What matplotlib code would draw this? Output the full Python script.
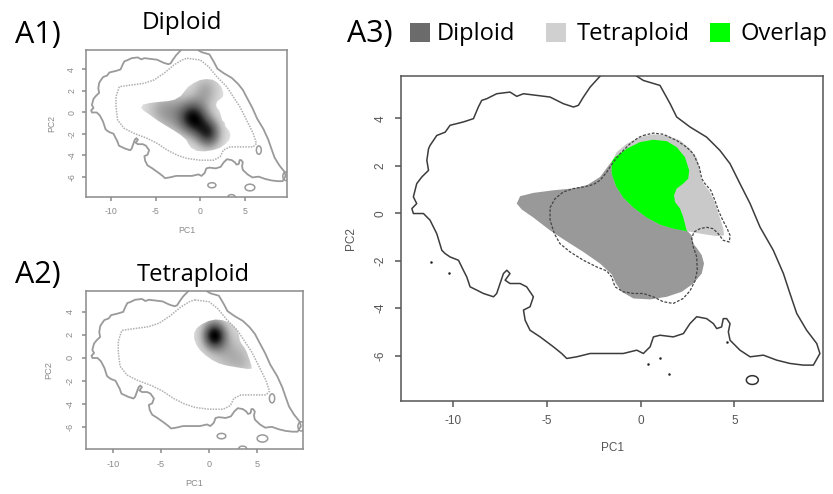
import numpy as np
import matplotlib.pyplot as plt
from matplotlib.path import Path
from matplotlib.patches import PathPatch, Ellipse, Rectangle

plt.rcParams['font.family'] = ['Open Sans', 'DejaVu Sans']
AXFONT = ['Liberation Sans', 'DejaVu Sans']

# PCA space limits shared by all panels
xlim = (-12.8, 9.75)
ylim = (-7.9, 5.8)
xticks = [-10, -5, 0, 5]
yticks = [-6, -4, -2, 0, 2, 4]

# outer contour of the available environment
env_x = [-1.81, -2.17, -2.70, -3.06, -3.33, -3.59, -4.13, -4.84, -5.55, -6.26, -6.62, -6.98,
         -7.69, -8.22, -8.49, -8.67, -8.93, -9.47, -9.82, -10.18, -10.44, -10.89, -11.25,
         -11.33, -11.42, -11.33, -11.69, -11.96, -12.05, -12.14, -11.96, -12.22, -12.14,
         -11.60, -11.25, -10.89, -10.62, -10.44, -10.18, -9.73, -9.47, -9.29, -9.11, -8.75,
         -8.40, -7.86, -7.69, -7.51, -7.33, -7.15, -6.98, -7.24, -6.98, -6.44, -6.09, -5.73,
         -5.91, -6.26, -6.17, -5.91, -5.37, -4.66, -4.22, -3.95, -3.42, -2.70, -1.81, -0.93,
         -0.21, 0.14, 0.50, 0.68, 1.03, 1.74, 2.28, 2.63, 2.99, 3.52, 3.88, 4.06, 4.32, 4.41,
         4.59, 4.77, 4.68, 4.77, 5.30, 5.84, 6.55, 7.26, 7.97, 8.68, 9.22, 9.57, 9.40, 8.86,
         8.33, 7.97, 7.62, 7.08, 6.37, 5.84, 5.30, 4.77, 4.23, 3.52, 2.63, 1.92, 1.57, 1.03,
         0.14, -0.21, -0.57]
env_y = [6.44, 5.78, 5.32, 4.90, 4.55, 4.48, 4.62, 4.90, 4.97, 5.04, 4.93, 5.11,
         5.04, 4.83, 4.76, 4.48, 3.99, 3.85, 3.78, 3.71, 3.42, 3.28, 2.86,
         2.72, 2.23, 1.81, 1.53, 1.25, 0.97, 0.69, 0.41, 0.20, -0.01,
         -0.01, -0.29, -0.86, -1.56, -1.70, -1.84, -1.98, -2.40, -2.68, -3.10, -3.24,
         -3.38, -3.52, -3.38, -2.96, -2.54, -2.40, -2.54, -2.82, -2.96, -2.96, -3.10, -3.52,
         -3.94, -4.08, -4.51, -4.93, -5.21, -5.63, -5.91, -6.12, -6.05, -5.91, -5.91, -5.91,
         -5.77, -5.91, -5.63, -5.21, -5.14, -5.21, -5.07, -4.65, -4.36, -4.44, -4.65, -4.86,
         -4.79, -4.44, -4.44, -4.65, -5.00, -5.35, -5.77, -6.05, -5.98, -6.19, -6.33, -6.40,
         -6.40, -5.91, -5.49, -4.93, -4.22, -3.38, -2.54, -1.56, -0.58, 0.41, 1.25, 2.09,
         2.65, 3.21, 3.64, 4.06, 4.62, 5.39, 5.60, 5.78, 6.44]

# inner (dotted) environment contour
inner_x = [-1.48, 0.00, 0.93, 1.85, 2.96, 3.70, 4.44, 5.19, 5.93, 6.30, 5.93, 4.44, 3.33,
           2.59, 2.22, 1.48, 0.00, -1.48, -2.59, -3.70, -4.81, -5.93, -7.41, -8.52, -9.26,
           -9.44, -9.44, -9.07, -7.78, -6.30, -5.19, -4.07, -2.96, -2.04]
inner_y = [5.03, 4.87, 4.25, 3.32, 2.39, 1.45, 0.52, -0.72, -1.96, -2.89, -3.21, -3.21, -3.21,
           -3.51, -4.14, -4.45, -4.45, -4.29, -3.98, -3.51, -2.89, -2.42, -1.96, -1.49, -0.72,
           0.52, 1.45, 2.39, 2.54, 2.70, 3.01, 3.63, 4.40, 4.87]

# dashed contour drawn over the niches
dash_x = [0.14, 0.67, 1.21, 1.92, 2.45, 2.81, 3.13, 3.26, 3.43, 3.74, 3.96, 4.14, 4.38, 4.59,
          4.77, 4.73, 4.41, 4.14, 3.87, 3.52, 3.16, 2.84, 2.72, 2.81, 2.99, 3.02, 2.90, 2.63,
          2.27, 1.74, 1.21, 0.67, 0.14, -0.39, -0.93, -1.37, -1.55, -1.81, -2.35, -3.06, -3.77,
          -4.31, -4.61, -4.84, -4.84, -4.57, -4.13, -3.60, -3.06, -2.53, -2.17, -1.81, -1.46,
          -1.10, -0.57, -0.13]
dash_y = [3.28, 3.38, 3.33, 3.07, 2.79, 2.51, 1.95, 1.46, 1.25, 0.97, 0.55, 0.13, -0.29, -0.60,
          -0.93, -1.21, -1.14, -0.86, -0.65, -0.59, -0.65, -0.79, -1.07, -1.42, -1.84, -2.40,
          -2.85, -3.27, -3.59, -3.80, -3.73, -3.52, -3.38, -3.38, -3.31, -3.10, -2.68, -2.43,
          -2.26, -1.98, -1.63, -1.28, -0.86, -0.29, 0.24, 0.62, 0.90, 1.04, 1.11, 1.21, 1.39,
          1.74, 2.16, 2.51, 2.93, 3.19]

# diploid niche outline
dip_x = [-6.62, -6.44, -5.73, -4.66, -3.60, -2.88, -2.17, -1.64, -1.37, -0.75, -0.04, 0.67,
         1.39, 1.92, 2.36, 2.59, 2.54, 2.27, 1.92, 1.78, 1.83, 2.10, 2.27, 2.45, 2.72, 2.81,
         3.02, 3.26, 3.38, 3.26, 2.81, 2.19, 1.39, 0.50, -0.39, -1.01, -1.32, -1.55, -2.17,
         -3.06, -4.04, -4.84, -5.73, -6.35]
dip_y = [0.41, 0.72, 0.86, 0.97, 1.05, 1.18, 1.53, 2.09, 2.37, 2.72, 3.00, 3.10,
         3.04, 2.79, 2.37, 1.81, 1.46, 1.25, 1.04, 0.76, 0.48, 0.20, -0.16, -0.72, -0.93, -1.28,
         -1.49, -1.77, -2.12, -2.54, -2.96, -3.31, -3.52, -3.63, -3.59, -3.31, -2.96, -2.57,
         -2.12, -1.63, -1.14, -0.72, -0.18, 0.16]

# tetraploid niche outline
tet_x = [-1.55, -1.28, -0.75, -0.04, 0.67, 1.39, 2.10, 2.63, 2.99, 3.13, 3.20, 3.38, 3.66,
         3.91, 4.09, 4.27, 4.41, 4.45, 4.06, 3.52, 2.99, 2.49, 1.74, 1.03, 0.32, -0.39, -0.93,
         -1.32, -1.55]
tet_y = [2.16, 2.58, 2.93, 3.21, 3.33, 3.28, 3.07, 2.72, 2.35, 1.95, 1.53, 1.22, 0.94,
         0.55, 0.13, -0.29, -0.65, -0.93, -0.96, -0.90, -0.83, -0.76, -0.65, -0.48, -0.18, 0.24,
         0.66, 1.14, 1.67]

# occurrence density kernels (centre x, centre y, spread, weight)
dip_kx = [-0.8, 0.9, -3.2, 0.6, -5.0]
dip_ky = [-0.6, -2.0, -0.1, 2.0, 0.3]
dip_ks = [1.1, 1.0, 1.4, 1.1, 1.0]
dip_kw = [1.0, 0.85, 0.4, 0.35, 0.15]
tet_kx = [0.55, 2.2, 3.6]
tet_ky = [1.9, 0.3, -0.5]
tet_ks = [0.85, 1.2, 0.8]
tet_kw = [1.0, 0.25, 0.12]

# small closed contour loops in the single-cytotype panels
loop_x = [1.3, 5.56, 6.56, 9.6, 3.5]
loop_y = [-6.78, -6.99, -3.51, -5.94, -7.85]
loop_w = [0.9, 1.1, 0.55, 0.7, 0.8]
loop_h = [0.47, 0.62, 0.78, 0.8, 0.4]

# isolated specks in the combined panel
speck_x = [-11.19, -10.23, 0.37, 1.03, 1.51, 4.62]
speck_y = [-2.04, -2.50, -6.37, -6.09, -6.79, -5.42]
ring_x, ring_y, ring_w, ring_h = 5.96, -7.03, 0.64, 0.37

DIP_FILL = '#999999'
TET_FILL = '#c9c9c9'
OVERLAP = '#00ff00'


def r_axes(ax, col, fs, ticklen, pad, xlabpad, ylabpad, lw):
    ax.set_xlim(xlim)
    ax.set_ylim(ylim)
    ax.set_xticks(xticks)
    ax.set_xticklabels([str(v) for v in xticks], family=AXFONT)
    ax.set_yticks(yticks)
    ax.set_yticklabels([str(v) for v in yticks], family=AXFONT, rotation=90, va='center')
    for sp in ax.spines.values():
        sp.set_color(col)
        sp.set_linewidth(lw)
    ax.tick_params(direction='out', length=ticklen, width=lw, color=col,
                   labelcolor=col, labelsize=fs, pad=pad)
    ax.set_xlabel('PC1', family=AXFONT, fontsize=fs, color=col, labelpad=xlabpad)
    ax.set_ylabel('PC2', family=AXFONT, fontsize=fs, color=col, labelpad=ylabpad)


def density_panel(ax, px, py, kx, ky, ks, kw, floor):
    gx = np.linspace(xlim[0], xlim[1], 400)
    gy = np.linspace(ylim[0], ylim[1], 300)
    X, Y = np.meshgrid(gx, gy)
    Z = np.zeros_like(X)
    for cx, cy, s, w in zip(kx, ky, ks, kw):
        Z += w * np.exp(-((X - cx) ** 2 + (Y - cy) ** 2) / (2 * s ** 2))
    Z = floor + (1 - floor) * Z / Z.max()
    im = ax.imshow(Z, extent=(*xlim, *ylim), origin='lower', cmap='Greys',
                   vmin=0, vmax=1, aspect='auto', interpolation='bilinear', zorder=1)
    clip = PathPatch(Path(np.column_stack([px, py])), transform=ax.transData)
    im.set_clip_path(clip)

    ax.plot(env_x, env_y, color='#9a9a9a', lw=1.3, zorder=2)
    ax.plot(inner_x + inner_x[:1], inner_y + inner_y[:1], color='#b0b0b0', lw=1.1,
            ls=(0, (1, 0.8)), zorder=2)
    for x, y, w, h in zip(loop_x, loop_y, loop_w, loop_h):
        ax.add_patch(Ellipse((x, y), w, h, fill=False, ec='#9a9a9a', lw=1.1, zorder=2))


fig = plt.figure(figsize=(8.33, 4.94), dpi=100)

# A1: diploid density
ax1 = fig.add_axes([86 / 833, 1 - 197.3 / 494, 201.3 / 833, 147.3 / 494])
density_panel(ax1, dip_x, dip_y, dip_kx, dip_ky, dip_ks, dip_kw, 0.18)
r_axes(ax1, '#8a8a8a', 6.3, 3, 4, 7, 8, 1.1)

# A2: tetraploid density
ax2 = fig.add_axes([86 / 833, 1 - 449 / 494, 216.7 / 833, 158 / 494])
density_panel(ax2, tet_x, tet_y, tet_kx, tet_ky, tet_ks, tet_kw, 0.22)
r_axes(ax2, '#8a8a8a', 6.6, 3.2, 5, 7, 9, 1.1)

# A3: niche overlap
ax3 = fig.add_axes([401 / 833, 1 - 400.7 / 494, 422.3 / 833, 325 / 494])
ax3.fill(dip_x, dip_y, color=DIP_FILL, lw=0, zorder=1)
ax3.fill(tet_x, tet_y, color=TET_FILL, lw=0, zorder=2)
dip_clip = PathPatch(Path(np.column_stack([dip_x, dip_y])), transform=ax3.transData)
for poly in ax3.fill(tet_x, tet_y, color=OVERLAP, lw=0, zorder=3):
    poly.set_clip_path(dip_clip)
ax3.plot(dash_x + dash_x[:1], dash_y + dash_y[:1], color='#444444', lw=0.9,
         ls=(0, (2.2, 1.3)), zorder=4)
ax3.plot(env_x, env_y, color='#3c3c3c', lw=1.1, zorder=4)
ax3.plot(speck_x, speck_y, 'o', ms=1.8, color='#222222', mew=0, zorder=4)
ax3.add_patch(Ellipse((ring_x, ring_y), ring_w, ring_h, fill=False, ec='#333333', lw=1.1, zorder=4))
r_axes(ax3, '#555555', 8.5, 4.3, 6, 11, 13, 1.1)

# panel labels and titles
fig.text(15 / 833, 1 - 42.7 / 494, 'A1)', fontsize=22, va='baseline', ha='left')
fig.text(181.7 / 833, 1 - 29.3 / 494, 'Diploid', fontsize=17.5, va='baseline', ha='center')
fig.text(15 / 833, 1 - 282.7 / 494, 'A2)', fontsize=22, va='baseline', ha='left')
fig.text(193 / 833, 1 - 280.7 / 494, 'Tetraploid', fontsize=17, va='baseline', ha='center')
fig.text(346.7 / 833, 1 - 41.7 / 494, 'A3)', fontsize=22, va='baseline', ha='left')

# legend for A3
legend_labels = ['Diploid', 'Tetraploid', 'Overlap']
legend_colors = ['#6b6b6b', '#d0d0d0', OVERLAP]
legend_box_x = [410, 546, 710]
legend_text_x = [436.7, 576.7, 740]
for lab, col, bx, tx in zip(legend_labels, legend_colors, legend_box_x, legend_text_x):
    fig.add_artist(Rectangle((bx / 833, 1 - 41.7 / 494), 20 / 833, 18.4 / 494,
                             transform=fig.transFigure, color=col, lw=0))
    fig.text(tx / 833, 1 - 40 / 494, lab, fontsize=17, va='baseline', ha='left')

fig.savefig('out.png', dpi=100)
